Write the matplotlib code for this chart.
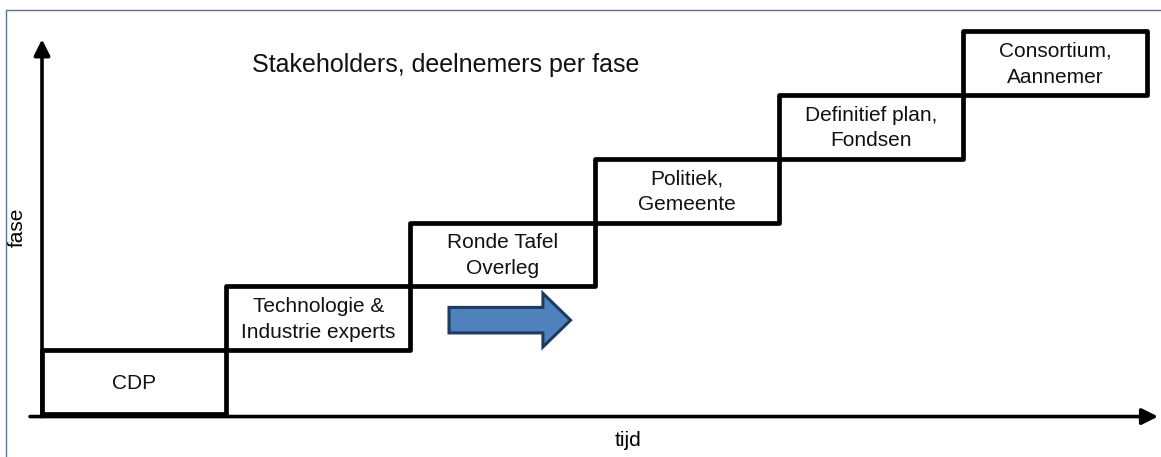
import matplotlib
matplotlib.use("Agg")
import matplotlib.pyplot as plt
from matplotlib.patches import Rectangle, FancyArrow

plt.rcParams['font.family'] = ['Liberation Sans', 'DejaVu Sans']

# Data: phases (stakeholders per phase), each a step in time and in phase
phases = ["CDP", "Technologie &\nIndustrie experts", "Ronde Tafel\nOverleg",
          "Politiek,\nGemeente", "Definitief plan,\nFondsen", "Consortium,\nAannemer"]
step_start_time = [0, 1, 2, 3, 4, 5]
step_level = [0, 1, 2, 3, 4, 5]
step_width = [1, 1, 1, 1, 1, 1]
step_height = [1, 1, 1, 1, 1, 1]

title = "Stakeholders, deelnemers per fase"
xlabel = "tijd"
ylabel = "fase"

W, H = 1161, 457
fig = plt.figure(figsize=(W / 100, H / 100), dpi=100)
fig.patch.set_facecolor('white')

# outer frame (thin bluish border, open to the right/bottom)
frame = Rectangle((6 / W, -0.1), 1.2, (H - 10) / H + 0.1, transform=fig.transFigure,
                  fill=False, edgecolor='#5D7391', linewidth=1.0)
fig.patches.append(frame)

ax = fig.add_axes([42 / W, 43 / H, (1147 - 42) / W, (414 - 31) / H])
ax.set_xlim(0, 6)
ax.set_ylim(0, 6)
ax.axis('off')

# axes arrows
ax.annotate('', xy=(6.06, -0.04), xytext=(-0.065, -0.04),
            arrowprops=dict(arrowstyle='-|>', lw=2.6, color='black',
                            mutation_scale=24, shrinkA=0, shrinkB=0),
            annotation_clip=False)
ax.annotate('', xy=(0, 5.87), xytext=(0, -0.04),
            arrowprops=dict(arrowstyle='-|>', lw=2.6, color='black',
                            mutation_scale=24, shrinkA=0, shrinkB=0),
            annotation_clip=False)

# step boxes
for lab, x0, y0, w, h in zip(phases, step_start_time, step_level, step_width, step_height):
    ax.add_patch(Rectangle((x0, y0), w, h, fill=False, edgecolor='black',
                           linewidth=3.4, joinstyle='round', clip_on=False, zorder=3))
    ax.text(x0 + w / 2, y0 + h / 2 - 0.02, lab, ha='center', va='center',
            fontsize=15, linespacing=1.45, color='#111111', zorder=4)

# blue progress arrow
ax.add_patch(FancyArrow(2.21, 1.47, 0.66, 0, width=0.40, head_width=0.84,
                        head_length=0.15, length_includes_head=True,
                        facecolor='#4F81BD', edgecolor='#1F3A5F', linewidth=2.2,
                        zorder=3))

ax.text(2.19, 5.46, title, ha='center', va='center', fontsize=18, color='#111111')

fig.text(628 / W, 1 - 440 / H, xlabel, ha='center', va='center', fontsize=15)
fig.text(17 / W, 1 - 227 / H, ylabel, ha='center', va='center', fontsize=15,
         rotation=90)

fig.savefig('out.png', dpi=100, facecolor='white')
